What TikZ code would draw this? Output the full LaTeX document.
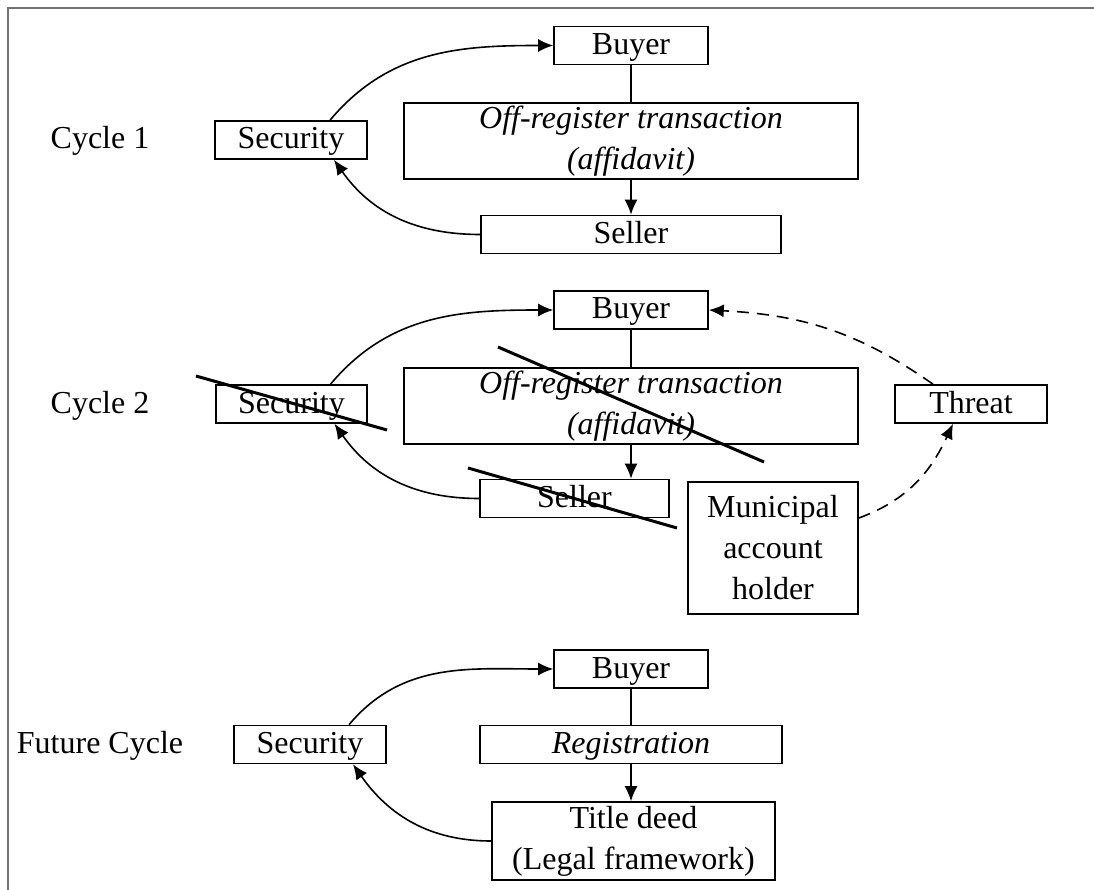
\documentclass[tikz,border=0pt]{standalone}
\usepackage{fontspec}
\setmainfont{Liberation Serif}
\usetikzlibrary{arrows.meta}

\begin{document}
\begin{tikzpicture}[
    x=1pt, y=-1pt,
    font=\fontsize{32pt}{41pt}\selectfont,
    >={Latex[length=15pt,width=13pt]},
    line width=1.6pt,
    box/.style={draw, inner sep=0pt, align=center, minimum height=38pt},
    oneline/.style={text height=22.5pt, text depth=4.5pt},
    tag/.style={inner sep=0pt, anchor=center, oneline},
    threatline/.style={->, dash pattern=on 12pt off 8pt},
    strike/.style={line width=3pt},
]

\useasboundingbox (0,0) rectangle (1094,890);

% page frame (only top and left edges show)
\draw[black!55, line width=2pt] (8,890) -- (8,8) -- (1094,8);

%============================================================
%  Cycle 1
%============================================================
\node[tag]  (cyc1) at (100,140)   {Cycle 1};
\node[box, oneline, minimum width=152pt] (sec1) at (291,140)   {Security};
\node[box, oneline, minimum width=154pt] (buy1) at (631,45.5)  {Buyer};
\node[box, minimum width=454pt, minimum height=76pt] (off1) at (631,141)
    {\textit{Off-register transaction}\\\textit{(affidavit)}};
\node[box, oneline, minimum width=300pt] (sel1) at (631,234.5) {Seller};

\draw (buy1.south) -- (off1.north);
\draw[->] (off1.south) -- (sel1.north);
\draw[->] ([xshift=39pt]sec1.north) to[out=50,in=180] (buy1.west);
\draw[->] (sel1.west) to[out=180,in=-55] ([xshift=43pt]sec1.south);

%============================================================
%  Cycle 2
%============================================================
\node[tag]  (cyc2) at (100,404)   {Cycle 2};
\node[box, oneline, minimum width=151pt] (sec2) at (291.5,404) {Security};
\node[box, oneline, minimum width=154pt] (buy2) at (631,310)   {Buyer};
\node[box, minimum width=454pt, minimum height=76pt] (off2) at (631,406)
    {\textit{Off-register transaction}\\\textit{(affidavit)}};
\node[box, oneline, minimum width=189pt] (sel2) at (574.5,498.5) {Seller};
\node[box, minimum width=170pt, minimum height=132pt] (mun) at (773,548)
    {Municipal\\account\\holder};
\node[box, oneline, minimum width=152pt] (thr) at (971,404)    {Threat};

\draw (buy2.south) -- (off2.north);
\draw[->] (off2.south) -- (off2.south |- sel2.north);
\draw[->] ([xshift=39pt]sec2.north) to[out=50,in=180] (buy2.west);
\draw[->] (sel2.west) to[out=180,in=-55] ([xshift=43pt]sec2.south);
\draw[threatline] ([yshift=30pt]mun.east) to[out=20,in=-115] ([xshift=-18pt]thr.south);
\draw[threatline] ([xshift=-38pt]thr.north) to[out=145,in=-3] (buy2.east);

% crossed-out parts
\coordinate (secA) at (196,376);
\coordinate (secB) at (387,430);
\coordinate (offA) at (498,347);
\coordinate (offB) at (764,462);
\coordinate (selA) at (468,468);
\coordinate (selB) at (677,528);
\draw[strike] (secA) -- (secB);
\draw[strike] (offA) -- (offB);
\draw[strike] (selA) -- (selB);

%============================================================
%  Future cycle
%============================================================
\node[tag]  (cyc3) at (100,744)   {Future Cycle};
\node[box, oneline, minimum width=152pt] (sec3) at (310,744.5) {Security};
\node[box, oneline, minimum width=154pt] (buy3) at (631,669)   {Buyer};
\node[box, oneline, minimum width=302pt] (reg)  at (631,744.5) {\textit{Registration}};
\node[box, minimum width=283pt, minimum height=78pt] (tit) at (633.5,841)
    {Title deed\\(Legal framework)};

\draw (buy3.south) -- (reg.north);
\draw[->] (reg.south) -- (reg.south |- tit.north);
\draw[->] ([xshift=39pt]sec3.north) to[out=50,in=180] (buy3.west);
\draw[->] (tit.west) to[out=180,in=-55] ([xshift=43pt]sec3.south);

\end{tikzpicture}
\end{document}
